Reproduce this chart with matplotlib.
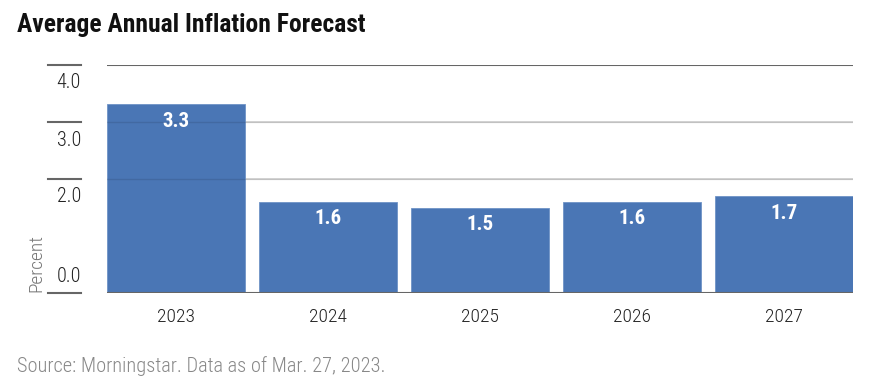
import matplotlib
matplotlib.use("Agg")
import matplotlib.pyplot as plt

years = ["2023", "2024", "2025", "2026", "2027"]
values = [3.31, 1.60, 1.50, 1.60, 1.70]
value_labels = ["3.3", "1.6", "1.5", "1.6", "1.7"]
ytick_vals = [4.0, 3.0, 2.0, 0.0]
ytick_labels = ["4.0", "3.0", "2.0", "0.0"]

FAM = ["Roboto Condensed", "DejaVu Sans"]

W, H = 879, 392
fig = plt.figure(figsize=(W/100, H/100), dpi=100)
ax = fig.add_axes([107/W, 1-293/H, 746/W, 228/H])

w = 137.7/152
x = list(range(len(years)))
ax.bar(x, values, width=w, color="#4a76b5", zorder=2, edgecolor="#6f93c6", linewidth=0.6)
ax.set_xlim(-w/2, len(years)-1+w/2)
ax.set_ylim(0, 4)

for yv in [2, 3]:
    ax.axhline(yv, color="#d0d0d0", lw=1.2, zorder=1)
    ax.axhline(yv, color="#000000", lw=1.0, alpha=0.1, zorder=3)
ax.axhline(4, color="#666666", lw=1.5, zorder=3)
ax.axhline(0, color="#666666", lw=1.5, zorder=3)

for xi, v, lab in zip(x, values, value_labels):
    ax.annotate(lab, (xi, v), xytext=(0, -17), textcoords="offset pixels",
                ha="center", va="center", color="white", fontsize=15, fontweight="bold", family=FAM)

for s in ax.spines.values():
    s.set_visible(False)
ax.set_yticks([])
ax.set_xticks(x)
ax.set_xticklabels(years, family=FAM, fontsize=14, color="#222222", fontweight=300)
ax.tick_params(axis="x", length=0, pad=11)

for tv, tl in zip(ytick_vals, ytick_labels):
    ax.plot([-59/152 - w/2, -26/152 - w/2], [tv, tv], color="#666666", lw=1.5,
            clip_on=False, zorder=3)
    off = -18 if tv > 0 else 17
    ax.annotate(tl, (-26/152 - w/2, tv), xytext=(0, off), textcoords="offset pixels",
                ha="right", va="center", fontsize=14.5, color="#222222", family=FAM,
                fontweight=300, annotation_clip=False)

fig.text(36/W, 1-292/H, "Percent", rotation=90, ha="center", va="bottom",
         fontsize=14, color="#777777", family=FAM, fontweight=300)

fig.text(17/W, 1-25/H, "Average Annual Inflation Forecast", ha="left", va="center",
         fontsize=18.4, fontweight="bold", color="#111111", family=FAM)
fig.text(17/W, 1-366/H, "Source: Morningstar. Data as of Mar. 27, 2023.", ha="left", va="center",
         fontsize=14.7, color="#888888", family=FAM, fontweight=300)

fig.savefig("out.png", dpi=100)
